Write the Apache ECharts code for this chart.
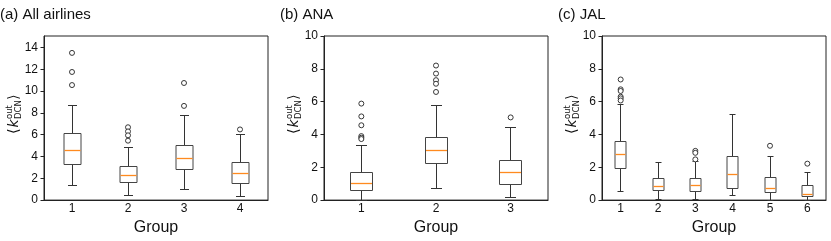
<!DOCTYPE html>
<html><head><meta charset="utf-8">
<script src="https://cdn.jsdelivr.net/npm/echarts@6/dist/echarts.min.js"></script>
<style>html,body{margin:0;padding:0;background:#fff}#c{width:831px;height:241px}</style>
</head><body><div id="c"></div>
<script>
// ---- data ----
var titles = ['(a) All airlines', '(b) ANA', '(c) JAL'];
var groupsA = ['1', '2', '3', '4'];
var groupsB = ['1', '2', '3'];
var groupsC = ['1', '2', '3', '4', '5', '6'];
// [lower whisker, Q1, median, Q3, upper whisker]
var boxA = [[1.32, 3.3, 4.55, 6.15, 8.7], [0.44, 1.62, 2.25, 3.06, 4.82], [0.96, 2.79, 3.78, 5.04, 7.77], [0.36, 1.53, 2.4, 3.42, 6.0]];
var boxB = [[0.0, 0.56, 1.04, 1.69, 3.3], [0.72, 2.23, 3.0, 3.84, 5.74], [0.14, 0.98, 1.67, 2.43, 4.44]];
var boxC = [[0.5, 1.94, 2.8, 3.59, 5.8], [0.04, 0.6, 0.84, 1.3, 2.29], [0.04, 0.55, 0.86, 1.29, 2.35], [0.26, 0.73, 1.55, 2.66, 5.22], [0.0, 0.45, 0.68, 1.39, 2.68], [0.0, 0.22, 0.37, 0.87, 1.66]];
// outliers: [group index, value]
var outA = [[0, 13.5], [0, 11.75], [0, 10.55], [1, 6.68], [1, 6.3], [1, 5.94], [1, 5.45], [2, 10.74], [2, 8.64], [3, 6.48]];
var outB = [[0, 5.88], [0, 5.1], [0, 4.56], [0, 3.9], [0, 3.8], [0, 3.72], [1, 8.2], [1, 7.71], [1, 7.31], [1, 7.09], [1, 6.59], [2, 5.04]];
var outC = [[0, 7.35], [0, 6.75], [0, 6.65], [0, 6.3], [0, 6.2], [0, 6.07], [2, 3.0], [2, 2.88], [2, 2.48], [4, 3.31], [5, 2.22]];
var yTicksA = [0, 2, 4, 6, 8, 10, 12, 14];
var yTicksB = [0, 2, 4, 6, 8, 10];
var yTicksC = [0, 2, 4, 6, 8, 10];
var yMaxA = 15.05, yMaxB = 10, yMaxC = 10;

var FONT = 'Liberation Sans';
var chart = echarts.init(document.getElementById('c'), null, {renderer: 'canvas'});

function px(v) { return Math.round(v - 0.5) + 0.5; }

function renderBox(params, api) {
  var x = api.value(0);
  var band = api.size([1, 0])[0];
  var bw = Math.round(band * 0.3), cw = Math.round(bw * 0.5);
  var pLo = api.coord([x, api.value(1)]);
  var pQ1 = api.coord([x, api.value(2)]);
  var pMed = api.coord([x, api.value(3)]);
  var pQ3 = api.coord([x, api.value(4)]);
  var pHi = api.coord([x, api.value(5)]);
  var cx = px(pLo[0]);
  var yLo = px(pLo[1]), yQ1 = px(pQ1[1]), yMed = px(pMed[1]), yQ3 = px(pQ3[1]), yHi = px(pHi[1]);
  var lineSt = {stroke: '#333', lineWidth: 1};
  return {type: 'group', children: [
    {type: 'line', shape: {x1: cx, y1: yHi, x2: cx, y2: yQ3}, style: lineSt},
    {type: 'line', shape: {x1: cx, y1: yQ1, x2: cx, y2: yLo}, style: lineSt},
    {type: 'line', shape: {x1: cx - cw / 2, y1: yHi, x2: cx + cw / 2, y2: yHi}, style: lineSt},
    {type: 'line', shape: {x1: cx - cw / 2, y1: yLo, x2: cx + cw / 2, y2: yLo}, style: lineSt},
    {type: 'rect', shape: {x: cx - bw / 2, y: yQ3, width: bw, height: yQ1 - yQ3}, style: {fill: '#fff', stroke: '#444', lineWidth: 1}},
    {type: 'line', z2: 5, shape: {x1: cx - bw / 2 + 0.5, y1: yMed, x2: cx + bw / 2 - 0.5, y2: yMed}, style: {stroke: '#ff8a1f', lineWidth: 1.3}}
  ]};
}

var panels = [
  {left: 44, cats: groupsA, box: boxA, out: outA, ticks: yTicksA, max: yMaxA, labX: 14, titleX: 0},
  {left: 324, cats: groupsB, box: boxB, out: outB, ticks: yTicksB, max: yMaxB, labX: 294, titleX: 280},
  {left: 602, cats: groupsC, box: boxC, out: outC, ticks: yTicksC, max: yMaxC, labX: 572, titleX: 558}
];

var grids = [], xAxes = [], yAxes = [], series = [], graphics = [];
panels.forEach(function (p, i) {
  grids.push({left: p.left, width: 224, top: 36, bottom: 38, show: true, borderColor: '#222', borderWidth: 1, backgroundColor: 'transparent'});
  xAxes.push({
    type: 'category', gridIndex: i, data: p.cats, boundaryGap: true,
    name: 'Group', nameLocation: 'middle', nameGap: 17,
    nameTextStyle: {fontFamily: FONT, fontSize: 16, color: '#111'},
    axisLine: {lineStyle: {color: '#222', width: 1}},
    axisTick: {alignWithLabel: true, length: 3.5, lineStyle: {color: '#222'}},
    axisLabel: {fontFamily: FONT, fontSize: 12, color: '#111', margin: 3},
    splitLine: {show: false}
  });
  yAxes.push({
    type: 'value', gridIndex: i, min: 0, max: p.max,
    axisLine: {show: true, lineStyle: {color: '#222', width: 1}},
    axisTick: {show: true, length: 3.5, lineStyle: {color: '#222'}, customValues: p.ticks},
    axisLabel: {fontFamily: FONT, fontSize: 12, color: '#111', margin: 6, customValues: p.ticks},
    splitLine: {show: false}
  });
  series.push({
    type: 'custom', xAxisIndex: i, yAxisIndex: i, renderItem: renderBox,
    encode: {x: 0, y: [1, 2, 3, 4, 5]},
    data: p.box.map(function (b, k) { return [k].concat(b); }),
    z: 2
  });
  series.push({
    type: 'scatter', xAxisIndex: i, yAxisIndex: i, symbol: 'circle', symbolSize: 5,
    itemStyle: {color: '#fff', borderColor: '#222', borderWidth: 0.9, opacity: 1},
    data: p.out, z: 3
  });
  graphics.push({type: 'text', x: p.titleX, y: 15, style: {text: titles[i], font: '15px "Liberation Sans"', fill: '#111', textVerticalAlign: 'middle'}});
  graphics.push({
    type: 'group', x: p.labX, y: 115, rotation: Math.PI / 2,
    children: [
      {type: 'text', x: -19, y: 0, style: {text: '\u27E8', font: '14.5px "DejaVu Sans"', fill: '#111', textVerticalAlign: 'middle', textAlign: 'left'}},
      {type: 'text', x: -12.5, y: 0.5, style: {text: 'k', font: 'italic 14px "DejaVu Sans"', fill: '#111', textVerticalAlign: 'middle', textAlign: 'left'}},
      {type: 'text', x: -4, y: -4.5, style: {text: 'out', font: '8.5px "DejaVu Sans"', fill: '#111', textVerticalAlign: 'middle', textAlign: 'left'}},
      {type: 'text', x: -4, y: 4.5, style: {text: 'DCN', font: '8.5px "DejaVu Sans"', fill: '#111', textVerticalAlign: 'middle', textAlign: 'left'}},
      {type: 'text', x: 15, y: 0, style: {text: '\u27E9', font: '14.5px "DejaVu Sans"', fill: '#111', textVerticalAlign: 'middle', textAlign: 'left'}}
    ]
  });
});

chart.setOption({
  animation: false,
  backgroundColor: '#fff',
  grid: grids, xAxis: xAxes, yAxis: yAxes, series: series, graphic: graphics
});
</script></body></html>
